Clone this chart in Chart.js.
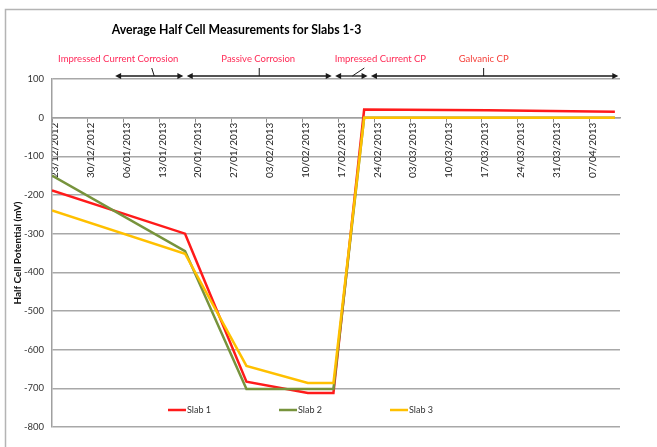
<!DOCTYPE html>
<html>
<head>
<meta charset="utf-8">
<script src="https://cdn.jsdelivr.net/npm/chart.js@4.4.1/dist/chart.umd.min.js"></script>
<style>
html,body{margin:0;padding:0;background:#fff;}
#wrap{width:657px;height:447px;position:relative;}
canvas{display:block;}
</style>
</head>
<body>
<div id="wrap"><canvas id="c" width="657" height="447"></canvas></div>
<script>
// ---------------- data ----------------
const chartTitle = 'Average Half Cell Measurements for Slabs 1-3';
const yAxisTitle = 'Half Cell Potential (mV)';
const seriesNames = ['Slab 1', 'Slab 2', 'Slab 3'];
const measurementDates = ['23/12/2012', '18/01/2013', '30/01/2013', '11/02/2013', '16/02/2013', '22/02/2013', '18/03/2013', '12/04/2013'];
const slab1 = [-188, -300, -683, -712, -712, 21, 19, 15];
const slab2 = [-150, -345, -702, -702, -702, 0, 0, 0];
const slab3 = [-240, -352, -642, -686, -686, 0, 0, 0];
const tickDates = ['23/12/2012', '30/12/2012', '06/01/2013', '13/01/2013', '20/01/2013', '27/01/2013', '03/02/2013', '10/02/2013', '17/02/2013', '24/02/2013', '03/03/2013', '10/03/2013', '17/03/2013', '24/03/2013', '31/03/2013', '07/04/2013'];
const axisStart = '23/12/2012';
const axisEnd = '13/04/2013';
const yMin = -800, yMax = 100, yStep = 100;
const phaseLabels = ['Impressed Current Corrosion', 'Passive Corrosion', 'Impressed Current CP', 'Galvanic CP'];
const phaseStart = ['04/01/2013', '18/01/2013', '16/02/2013', '23/02/2013'];
const phaseEnd = ['18/01/2013', '16/02/2013', '23/02/2013', '13/04/2013'];

// ---------------- styles ----------------
const colors = ['#ff1a1a', '#77933c', '#ffc000'];
const FONT = 'Lato, "Open Sans", "DejaVu Sans", sans-serif';
const phaseStyle = {
  labelShift: [-31, -1, 29, -11],
  leaderBottom: [5, 0, 1, -11],
  leaderTop: [2.5, 0, 13, -11],
  colors: ['#ff2a5a', '#ff2a55', '#ff2a55', '#f5403a']
};

function dayOf(s) {
  const [d, m, y] = s.split('/').map(Number);
  const [d0, m0, y0] = axisStart.split('/').map(Number);
  return Math.round((Date.UTC(y, m - 1, d) - Date.UTC(y0, m0 - 1, d0)) / 86400000);
}
function toPoints(vals) {
  return vals.map((v, i) => ({ x: dayOf(measurementDates[i]), y: v }));
}

const seriesValues = [slab1, slab2, slab3];
const datasets = seriesNames.map((name, i) => ({
  label: name,
  data: toPoints(seriesValues[i]),
  borderColor: colors[i],
  backgroundColor: colors[i],
  borderWidth: 2.5,
  pointRadius: 0,
  tension: 0,
  fill: false,
  order: 3 - i
}));

function fitFont(ctx, text, weight, maxSize, targetWidth) {
  let size = maxSize;
  while (size > 6) {
    ctx.font = weight + ' ' + size + 'px ' + FONT;
    if (ctx.measureText(text).width <= targetWidth) break;
    size -= 0.25;
  }
  return size;
}

const decor = {
  id: 'decor',
  beforeDraw(chart) {
    const ctx = chart.ctx;
    ctx.save();
    ctx.fillStyle = '#fff';
    ctx.fillRect(0, 0, chart.width, chart.height);
    ctx.strokeStyle = '#b4b4b4';
    ctx.lineWidth = 1.5;
    ctx.strokeRect(5.5, 9.5, 800, 600);
    ctx.restore();
  },
  afterDraw(chart) {
    const ctx = chart.ctx;
    const xs = chart.scales.x, ys = chart.scales.y;
    ctx.save();
    // title
    fitFont(ctx, chartTitle, 'bold', 16, 253);
    ctx.fillStyle = '#000';
    ctx.textAlign = 'center';
    ctx.textBaseline = 'middle';
    ctx.fillText(chartTitle, 236.5, 30);

    // phase arrows
    const yArrow = ys.getPixelForValue(yMax) - 3;
    phaseLabels.forEach((lab, i) => {
      const x1 = xs.getPixelForValue(dayOf(phaseStart[i])) + 1.7;
      const x2 = xs.getPixelForValue(dayOf(phaseEnd[i])) - 1.7;
      const cx = (x1 + x2) / 2;
      ctx.strokeStyle = '#1a1a1a';
      ctx.fillStyle = '#1a1a1a';
      ctx.lineWidth = 1.3;
      ctx.beginPath();
      ctx.moveTo(x1 + 2, yArrow);
      ctx.lineTo(x2 - 2, yArrow);
      ctx.stroke();
      ctx.beginPath();
      ctx.moveTo(x1, yArrow); ctx.lineTo(x1 + 6, yArrow - 3); ctx.lineTo(x1 + 6, yArrow + 3); ctx.closePath();
      ctx.fill();
      ctx.beginPath();
      ctx.moveTo(x2, yArrow); ctx.lineTo(x2 - 6, yArrow - 3); ctx.lineTo(x2 - 6, yArrow + 3); ctx.closePath();
      ctx.fill();
      // leader
      ctx.lineWidth = 1;
      ctx.beginPath();
      ctx.moveTo(cx + phaseStyle.leaderBottom[i], yArrow);
      ctx.lineTo(cx + phaseStyle.leaderTop[i], yArrow - 8);
      ctx.stroke();
      // label
      ctx.font = '9.5px ' + FONT;
      ctx.fillStyle = phaseStyle.colors[i];
      ctx.textAlign = 'center';
      ctx.textBaseline = 'middle';
      ctx.fillText(lab, cx + phaseStyle.labelShift[i], 59);
    });

    // legend
    const ly = 410;
    chart.data.datasets.forEach((ds, i) => {
      const x0 = 168 + i * 111;
      ctx.strokeStyle = ds.borderColor;
      ctx.lineWidth = 2.5;
      ctx.beginPath();
      ctx.moveTo(x0, ly);
      ctx.lineTo(x0 + 18, ly);
      ctx.stroke();
      ctx.font = '9px ' + FONT;
      ctx.fillStyle = '#333';
      ctx.textAlign = 'left';
      ctx.textBaseline = 'middle';
      ctx.fillText(ds.label, x0 + 19, ly + 0.5);
    });
    ctx.restore();
  }
};

new Chart(document.getElementById('c'), {
  type: 'line',
  data: { datasets },
  options: {
    responsive: false,
    animation: false,
    devicePixelRatio: 1,
    layout: { padding: { top: 79, bottom: 20, left: 10, right: 37 } },
    plugins: { legend: { display: false }, title: { display: false }, tooltip: { enabled: false } },
    scales: {
      x: {
        type: 'linear',
        position: { y: 0 },
        min: 0,
        max: dayOf(axisEnd),
        afterBuildTicks: s => { s.ticks = tickDates.map(d => ({ value: dayOf(d) })); },
        ticks: {
          autoSkip: false,
          minRotation: 90,
          maxRotation: 90,
          callback: (v, i) => tickDates[i],
          font: { family: FONT, size: 10 },
          color: '#222',
          padding: 1,
          labelOffset: 3
        },
        grid: { drawOnChartArea: false, drawTicks: true, tickLength: 4, color: '#8c8c8c' },
        border: { display: true, color: '#a0a0a0', width: 1.5 }
      },
      y: {
        min: yMin,
        max: yMax,
        afterFit: s => { s.width = 42; },
        ticks: { stepSize: yStep, font: { family: FONT, size: 9.5 }, color: '#333', padding: 8 },
        grid: { color: '#a8a8a8', lineWidth: 1.5, drawTicks: false },
        border: { display: true, color: '#a0a0a0', width: 1.5 },
        title: { display: true, text: yAxisTitle, font: { family: FONT, size: 10, weight: 'bold' }, color: '#111', padding: { top: 2, bottom: 0 } }
      }
    }
  },
  plugins: [decor]
});
</script>
</body>
</html>
